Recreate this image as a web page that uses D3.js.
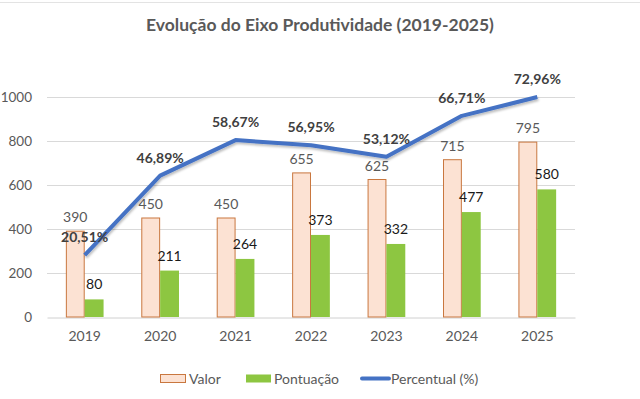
<!DOCTYPE html>
<html>
<head>
<meta charset="utf-8">
<script src="https://cdn.jsdelivr.net/npm/d3@7"></script>
<style>
  body { margin: 0; background: #fff; }
  svg { display: block; font-family: Lato, "Open Sans", sans-serif; }
</style>
</head>
<body>
<svg id="chart"></svg>
<script>
// chart data
var anos = ["2019", "2020", "2021", "2022", "2023", "2024", "2025"];
var valor = [390, 450, 450, 655, 625, 715, 795];
var pontuacao = [80, 211, 264, 373, 332, 477, 580];
var percentual = [20.51, 46.89, 58.67, 56.95, 53.12, 66.71, 72.96];
var yTicks = [0, 200, 400, 600, 800, 1000];

var width = 640,
    height = 399;

var margin = {top: 97, right: 65, bottom: 82, left: 47};

var svg = d3.select("#chart")
    .attr("width", width)
    .attr("height", height);

// faint spreadsheet cell border at the very top
svg.append("line")
    .attr("x1", 0).attr("x2", width)
    .attr("y1", 2.5).attr("y2", 2.5)
    .attr("stroke", "#e3e3e3");

var x = d3.scaleBand()
    .domain(anos)
    .range([margin.left, width - margin.right]);

var y = d3.scaleLinear()
    .domain([0, 1000])
    .range([height - margin.bottom, margin.top]);

// hidden secondary axis for the percentage line
var y2 = d3.scaleLinear()
    .domain([0, 72.96])
    .range([height - margin.bottom, margin.top]);

var barW = x.bandwidth() * 0.25;

// title
svg.append("text")
    .attr("x", width / 2)
    .attr("y", 31)
    .attr("text-anchor", "middle")
    .attr("font-size", 17.5)
    .attr("font-weight", "bold")
    .attr("fill", "#595959")
    .text("Evolução do Eixo Produtividade (2019-2025)");

// gridlines
svg.append("g")
    .selectAll("line")
    .data(yTicks.slice(1))
    .enter().append("line")
    .attr("x1", margin.left)
    .attr("x2", width - margin.right)
    .attr("y1", function(d) { return Math.round(y(d)) + 0.5; })
    .attr("y2", function(d) { return Math.round(y(d)) + 0.5; })
    .attr("stroke", "#d9d9d9");

// y axis labels
var yAxis = d3.axisLeft(y).tickValues(yTicks).tickFormat(d3.format("d"))
    .tickSize(0).tickPadding(15);
var gy = svg.append("g")
    .attr("transform", "translate(" + margin.left + ",0)")
    .call(yAxis);
gy.select(".domain").remove();
gy.selectAll("text")
    .attr("font-family", "Lato, sans-serif")
    .attr("font-size", 13.5)
    .attr("fill", "#595959");

// x axis
var xAxis = d3.axisBottom(x).tickSize(0).tickPadding(14);
var gx = svg.append("g")
    .attr("transform", "translate(0," + (Math.round(y(0)) + 0.5) + ")")
    .call(xAxis);
gx.select(".domain").attr("stroke", "#d0d0d0");
gx.selectAll("text")
    .attr("font-family", "Lato, sans-serif")
    .attr("font-size", 14)
    .attr("fill", "#595959");

// Valor bars
svg.append("g")
    .selectAll("rect")
    .data(valor)
    .enter().append("rect")
    .attr("x", function(d, i) { return x(anos[i]) + x.bandwidth() / 2 - barW + 0.5; })
    .attr("y", function(d) { return y(d); })
    .attr("width", barW - 1)
    .attr("height", function(d) { return y(0) - y(d); })
    .attr("fill", "#fce2d3")
    .attr("stroke", "#c9773f")
    .attr("stroke-width", 1);

// Pontuação bars
svg.append("g")
    .selectAll("rect")
    .data(pontuacao)
    .enter().append("rect")
    .attr("x", function(d, i) { return x(anos[i]) + x.bandwidth() / 2; })
    .attr("y", function(d) { return y(d); })
    .attr("width", barW)
    .attr("height", function(d) { return y(0) - y(d); })
    .attr("fill", "#8dc641");

// Valor labels
svg.append("g")
    .selectAll("text")
    .data(valor)
    .enter().append("text")
    .attr("x", function(d, i) { return x(anos[i]) + x.bandwidth() / 2 - barW / 2; })
    .attr("y", function(d) { return y(d) - 9; })
    .attr("text-anchor", "middle")
    .attr("font-size", 14)
    .attr("fill", "#595959")
    .text(function(d) { return d; });

// Pontuação labels
svg.append("g")
    .selectAll("text")
    .data(pontuacao)
    .enter().append("text")
    .attr("x", function(d, i) { return x(anos[i]) + x.bandwidth() / 2 + barW / 2; })
    .attr("y", function(d) { return y(d) - 10; })
    .attr("text-anchor", "middle")
    .attr("font-size", 14)
    .attr("fill", "#1a1a1a")
    .text(function(d) { return d; });

// percentage line
var defs = svg.append("defs");
var f = defs.append("filter").attr("id", "shadow")
    .attr("x", "-10%").attr("y", "-10%").attr("width", "120%").attr("height", "130%");
f.append("feDropShadow")
    .attr("dx", 1).attr("dy", 2)
    .attr("stdDeviation", 1.2)
    .attr("flood-color", "#000")
    .attr("flood-opacity", 0.25);

var line = d3.line()
    .x(function(d, i) { return x(anos[i]) + x.bandwidth() / 2; })
    .y(function(d) { return y2(d); });

svg.append("path")
    .datum(percentual)
    .attr("d", line)
    .attr("fill", "none")
    .attr("stroke", "#4472c4")
    .attr("stroke-width", 4)
    .attr("stroke-linejoin", "round")
    .attr("filter", "url(#shadow)");

// percentage labels
svg.append("g")
    .selectAll("text")
    .data(percentual)
    .enter().append("text")
    .attr("x", function(d, i) { return x(anos[i]) + x.bandwidth() / 2; })
    .attr("y", function(d) { return y2(d) - 13; })
    .attr("text-anchor", "middle")
    .attr("font-size", 14)
    .attr("font-weight", "bold")
    .attr("fill", "#404040")
    .text(function(d) { return d.toFixed(2).replace(".", ",") + "%"; });

// legend
var legend = svg.append("g").attr("font-size", 14).attr("fill", "#595959");

legend.append("rect")
    .attr("x", 160.5).attr("y", 374.5)
    .attr("width", 25).attr("height", 8)
    .attr("fill", "#fce2d3").attr("stroke", "#c9773f");
legend.append("text").attr("x", 189).attr("y", 383.5).text("Valor");

legend.append("rect")
    .attr("x", 246).attr("y", 374.5)
    .attr("width", 25).attr("height", 8)
    .attr("fill", "#8dc641");
legend.append("text").attr("x", 274).attr("y", 383.5).text("Pontuação");

legend.append("line")
    .attr("x1", 362).attr("x2", 389)
    .attr("y1", 378.5).attr("y2", 378.5)
    .attr("stroke", "#4472c4").attr("stroke-width", 4)
    .attr("stroke-linecap", "round");
legend.append("text").attr("x", 391).attr("y", 383.5).text("Percentual (%)");
</script>
</body>
</html>
